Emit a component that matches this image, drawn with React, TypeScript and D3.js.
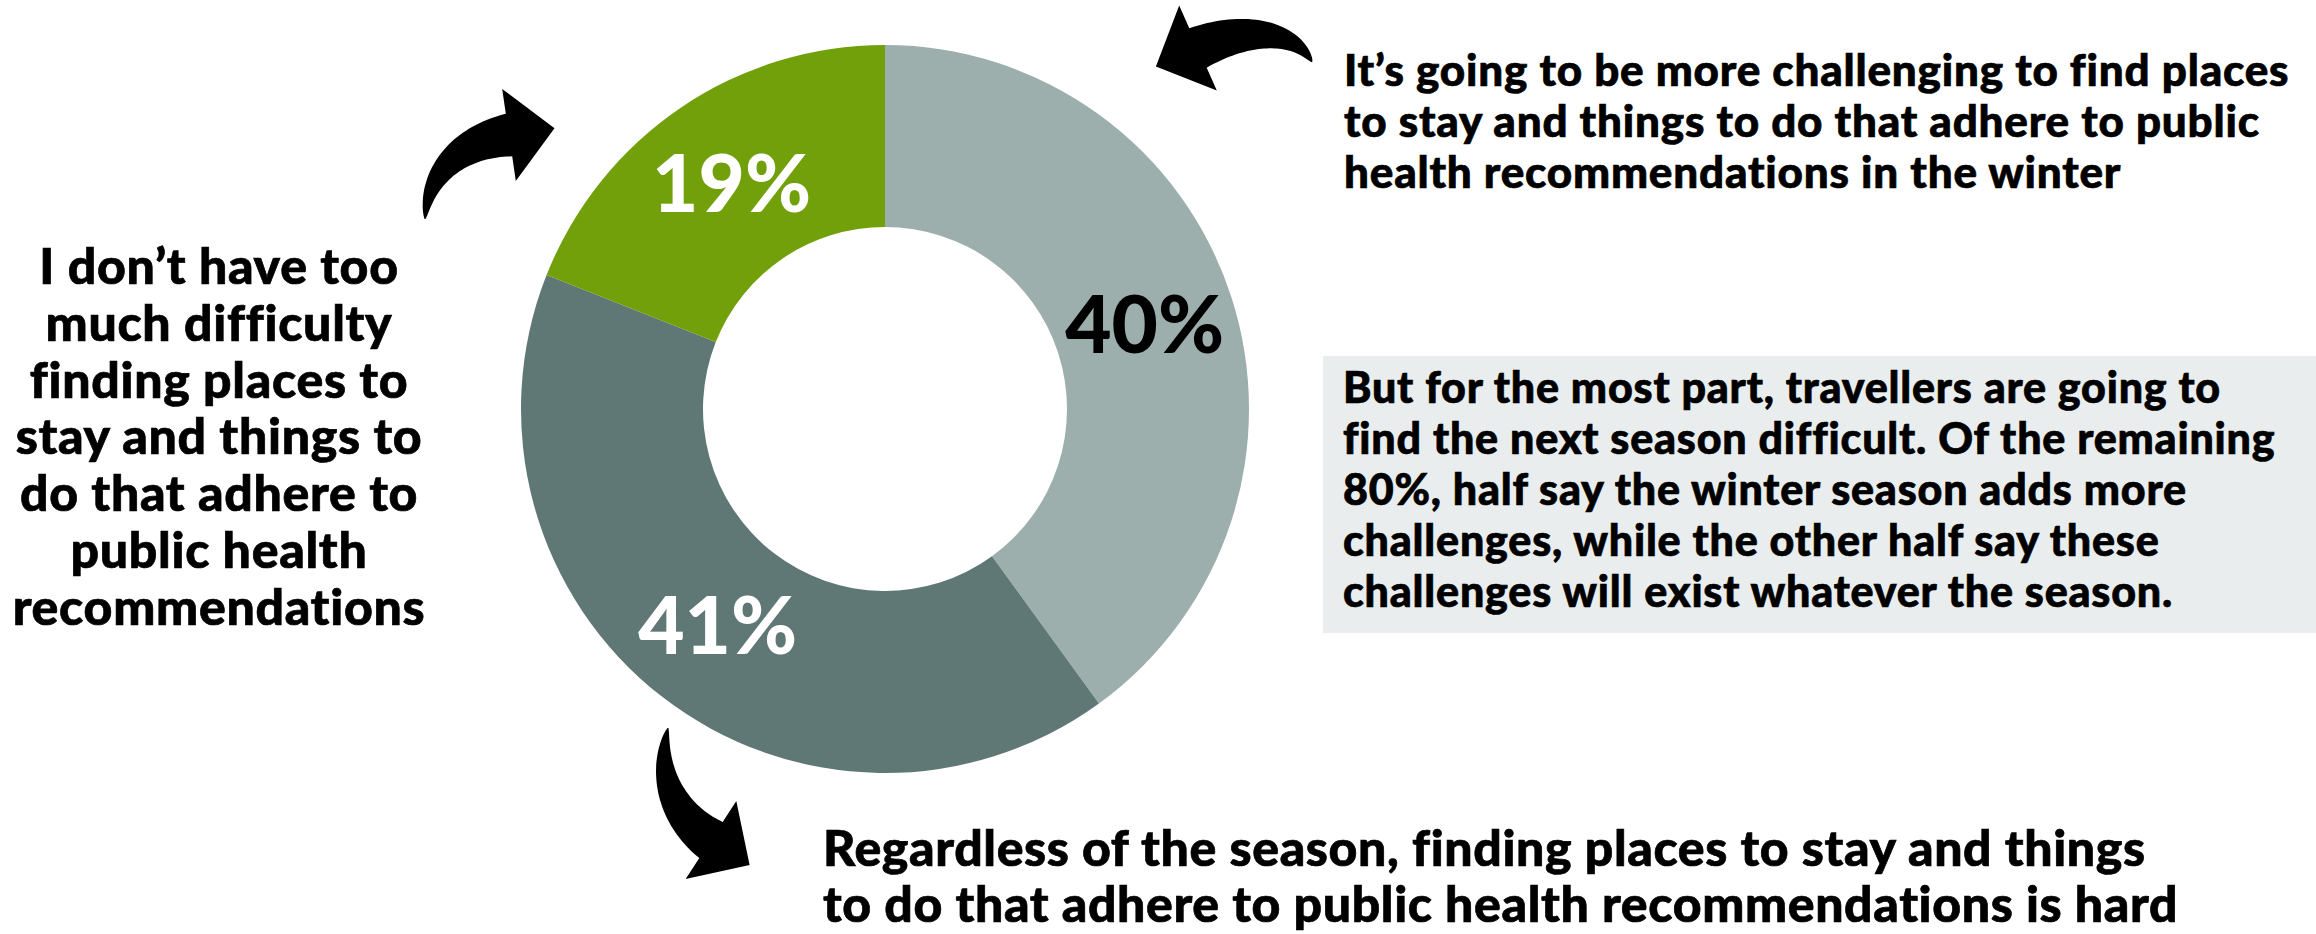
import React, { useEffect } from "react";
import * as d3 from "d3";

// ---------- data ----------
const categories = [
  "More challenging in the winter",
  "Hard regardless of the season",
  "No difficulty",
];
const values = [40, 41, 19];
const valueLabels = ["40%", "41%", "19%"];
const sliceColors = ["#9CAFAD", "#5F7775", "#71A00A"];
const labelColors = ["#000000", "#FFFFFF", "#FFFFFF"];

const topRightLines = [
  "It\u2019s going to be more challenging to find places",
  "to stay and things to do that adhere to public",
  "health recommendations in the winter",
];
const boxLines = [
  "But for the most part, travellers are going to",
  "find the next season difficult. Of the remaining",
  "80%, half say the winter season adds more",
  "challenges, while the other half say these",
  "challenges will exist whatever the season.",
];
const bottomLines = [
  "Regardless of the season, finding places to stay and things",
  "to do that adhere to public health recommendations is hard",
];
const leftLines = [
  "I don\u2019t have too",
  "much difficulty",
  "finding places to",
  "stay and things to",
  "do that adhere to",
  "public health",
  "recommendations",
];

// ---------- layout ----------
const W = 2316;
const H = 934;
const CX = 885;
const CY = 409;
const R_OUT = 364;
const R_IN = 182;
const FONT = "Lato, 'Open Sans', sans-serif";
const WEIGHT = 900;

type Pt = [number, number];

function arrowPath(
  p0: Pt,
  p1: Pt,
  p2: Pt,
  p3: Pt,
  shaftW: number,
  headHalf: number,
  headLen: number
): string {
  const N = 40;
  const left: Pt[] = [];
  const right: Pt[] = [];
  const bez = (t: number): Pt => {
    const u = 1 - t;
    return [
      u * u * u * p0[0] + 3 * u * u * t * p1[0] + 3 * u * t * t * p2[0] + t * t * t * p3[0],
      u * u * u * p0[1] + 3 * u * u * t * p1[1] + 3 * u * t * t * p2[1] + t * t * t * p3[1],
    ];
  };
  const der = (t: number): Pt => {
    const u = 1 - t;
    return [
      3 * u * u * (p1[0] - p0[0]) + 6 * u * t * (p2[0] - p1[0]) + 3 * t * t * (p3[0] - p2[0]),
      3 * u * u * (p1[1] - p0[1]) + 6 * u * t * (p2[1] - p1[1]) + 3 * t * t * (p3[1] - p2[1]),
    ];
  };
  let lastD: Pt = [1, 0];
  for (let i = 0; i <= N; i++) {
    const t = i / N;
    const p = bez(t);
    const d = der(t);
    const len = Math.hypot(d[0], d[1]) || 1;
    const dx = d[0] / len;
    const dy = d[1] / len;
    lastD = [dx, dy];
    const nx = -dy;
    const ny = dx;
    const w = (shaftW * Math.pow(t, 0.75)) / 2 + 0.5;
    left.push([p[0] + nx * w, p[1] + ny * w]);
    right.push([p[0] - nx * w, p[1] - ny * w]);
  }
  const [dx, dy] = lastD;
  const nx = -dy;
  const ny = dx;
  const c1: Pt = [p3[0] + nx * headHalf, p3[1] + ny * headHalf];
  const c2: Pt = [p3[0] - nx * headHalf, p3[1] - ny * headHalf];
  const tip: Pt = [p3[0] + dx * headLen, p3[1] + dy * headLen];
  const pts: Pt[] = [...left, c1, tip, c2, ...right.reverse()];
  return "M" + pts.map((p) => p[0].toFixed(1) + "," + p[1].toFixed(1)).join("L") + "Z";
}

const arrows: { p: Pt[] }[] = [
  // left arrow (points up-right toward the green slice)
  { p: [[425, 219], [428, 172], [462, 142], [509, 135]] },
  // top arrow (points left-down toward the light slice)
  { p: [[1312, 62], [1296, 33], [1250, 25], [1198, 48]] },
  // bottom arrow (points down-right toward the bottom text)
  { p: [[668, 728], [656, 772], [674, 816], [711, 840]] },
];

const bodyStroke = { stroke: "#000", strokeWidth: 0.7 };

export default function App() {
  useEffect(() => {
    document.body.style.margin = "0";
  }, []);

  const pie = d3
    .pie<number>()
    .sort(null)
    .value((d) => d)
    .startAngle(0)
    .endAngle(2 * Math.PI);
  const arcs = pie(values);
  const arc = d3.arc<d3.PieArcDatum<number>>().innerRadius(R_IN).outerRadius(R_OUT);
  const labelArc = d3
    .arc<d3.PieArcDatum<number>>()
    .innerRadius((R_IN + R_OUT) / 2)
    .outerRadius((R_IN + R_OUT) / 2);

  return (
    <svg width={W} height={H} style={{ display: "block", background: "#fff" }} fontFamily={FONT}>
      {/* donut */}
      <g transform={`translate(${CX},${CY})`}>
        {arcs.map((a, i) => (
          <path key={categories[i]} d={arc(a) || ""} fill={sliceColors[i]} />
        ))}
        {arcs.map((a, i) => {
          const [x, y] = labelArc.centroid(a);
          return (
            <text
              key={"l" + i}
              x={x}
              y={y}
              dy="0.36em"
              textAnchor="middle"
              fontSize={80}
              fontWeight={WEIGHT}
              fill={labelColors[i]}
            >
              {valueLabels[i]}
            </text>
          );
        })}
      </g>

      {/* arrows */}
      {arrows.map((a, i) => (
        <path key={"a" + i} d={arrowPath(a.p[0], a.p[1], a.p[2], a.p[3], 42, 46.5, 46)} fill="#000" />
      ))}

      {/* top right text */}
      <text fontSize={44} fontWeight={WEIGHT} fill="#000" letterSpacing={0.8} {...bodyStroke}>
        {topRightLines.map((t, i) => (
          <tspan key={i} x={1344} y={86 + i * 51}>
            {t}
          </tspan>
        ))}
      </text>

      {/* grey box */}
      <rect x={1323} y={356} width={W - 1323} height={277} fill="#E9EDEE" />
      <text fontSize={43} fontWeight={WEIGHT} fill="#000" letterSpacing={0.8} {...bodyStroke}>
        {boxLines.map((t, i) => (
          <tspan key={i} x={1343} y={403 + i * 51}>
            {t}
          </tspan>
        ))}
      </text>

      {/* bottom text */}
      <text fontSize={50} fontWeight={WEIGHT} fill="#000" letterSpacing={0.62} {...bodyStroke}>
        {bottomLines.map((t, i) => (
          <tspan key={i} x={823} y={866 + i * 56}>
            {t}
          </tspan>
        ))}
      </text>

      {/* left text */}
      <text
        fontSize={50}
        fontWeight={WEIGHT}
        fill="#000"
        textAnchor="middle"
        letterSpacing={0.7}
        {...bodyStroke}
      >
        {leftLines.map((t, i) => (
          <tspan key={i} x={219} y={284 + i * 56.8}>
            {t}
          </tspan>
        ))}
      </text>
    </svg>
  );
}
